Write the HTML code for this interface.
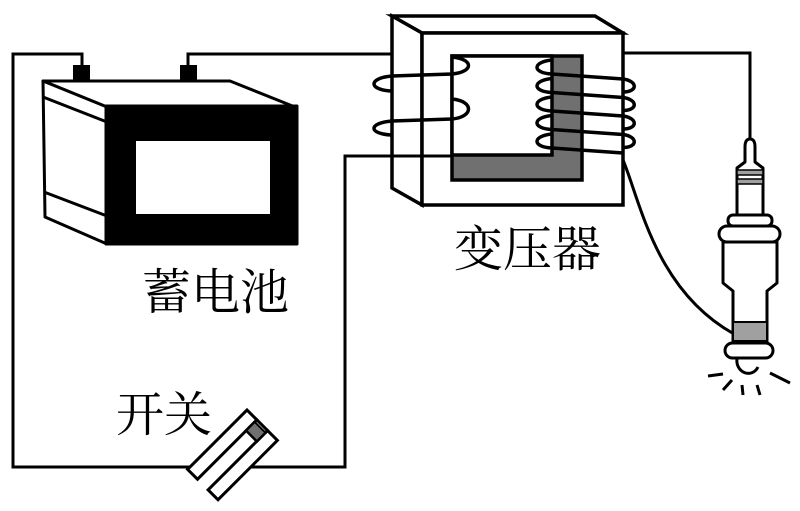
<!DOCTYPE html>
<html><head><meta charset="utf-8"><style>
html,body{margin:0;padding:0;background:#fff;}
svg{display:block;}
text{font-family:"Liberation Serif","Noto Serif CJK SC","Noto Serif CJK SC",serif;fill:#000;}
</style></head><body>
<svg width="800" height="511" viewBox="0 0 800 511" xmlns="http://www.w3.org/2000/svg">
<rect width="800" height="511" fill="#fff"/>

<!-- wires -->
<g fill="none" stroke="#000" stroke-width="3">
  <path d="M82 66 V54 H13 V467 H190"/>
  <path d="M188 66 V54 H392"/>
  <path d="M623 53 H750 V142"/>
</g>

<!-- battery -->
<g stroke="#000" stroke-width="3" stroke-linejoin="round">
  <rect x="73" y="65" width="17" height="16" fill="#000" stroke="none"/>
  <rect x="180" y="65" width="17" height="16" fill="#000" stroke="none"/>
  <polygon points="43,81 230,81 295,107 107,107" fill="#fff"/>
  <polygon points="43,81 107,107 107,244 45,217" fill="#fff"/>
  <line x1="43" y1="97" x2="107" y2="122"/>
  <line x1="44" y1="192" x2="107" y2="216"/>
  <rect x="106" y="106" width="191" height="138" fill="#000"/>
  <rect x="136" y="141" width="134" height="73" fill="#fff" stroke="none"/>
</g>

<!-- transformer -->
<g stroke="#000" stroke-width="3.5" stroke-linejoin="miter">
  <polygon points="392,16 595,16 623,33 422,33" fill="#fff"/>
  <polygon points="392,16 422,33 422,205 392,188" fill="#fff"/>
  <rect x="422" y="33" width="201" height="172" fill="#fff"/>
  <rect x="452" y="56" width="130" height="124" fill="#707070"/>
  <rect x="452" y="56" width="100" height="99" fill="#fff"/>
</g>

<!-- coils -->
<g fill="none" stroke="#000" stroke-width="3.5">
  <path d="M452 57 C474 59,474 72,452 74 L392 76 C368 78,368 90,392 91"/>
  <path d="M452 99 C474 101,474 117,452 119 L392 121 C368 123,368 134,392 135"/>
  <path d="M552 60 C532 62,532 73,552 74 L623 79 C638 81,638 92,623 92"/>
  <path d="M552 78.5 C532 80.5,532 91.5,552 92.5 L623 97.5 C638 99.5,638 110.5,623 110.5"/>
  <path d="M552 97 C532 99,532 110,552 111 L623 116 C638 118,638 129,623 129"/>
  <path d="M552 115.5 C532 117.5,532 128.5,552 129.5 L623 134.5 C638 136.5,638 147.5,623 147.5"/>
  <path d="M552 134 C532 136,532 147,552 148 L623 153"/>
</g>
<g fill="none" stroke="#000" stroke-width="3">
  <path d="M250 467 H345 V156 H452"/>
  <path d="M623 152 V160 C640 200,655 290,734 334"/>
</g>

<!-- spark plug -->
<g stroke="#000" stroke-width="3" stroke-linejoin="round">
  <path d="M745 162 V147 Q745 139 750 139 Q755 139 755 147 V162 L763 168 V217 H737 V168 Z" fill="#fff"/>
  <rect x="737" y="170" width="26" height="5" fill="#a0a0a0" stroke-width="1.5"/>
  <rect x="737" y="179" width="26" height="5" fill="#a0a0a0" stroke-width="1.5"/>
  <path d="M723 242 V283 L733 291 V343 H767 V291 L777 283 V242 Z" fill="#fff"/>
  <rect x="733" y="322" width="34" height="19" fill="#a0a0a0" stroke-width="2"/>
  <rect x="728" y="215" width="44" height="11" rx="5" fill="#fff"/>
  <rect x="719" y="226" width="61" height="16" rx="8" fill="#fff"/>
  <rect x="725" y="343" width="48" height="15" rx="7.5" fill="#fff"/>
  <path d="M737 358 C735 373,752 379,758 367" fill="none"/>
  <line x1="708" y1="376" x2="723" y2="374"/>
  <line x1="723" y1="390" x2="732" y2="380"/>
  <line x1="742" y1="385" x2="743" y2="395"/>
  <line x1="757" y1="385" x2="760" y2="395"/>
  <line x1="770" y1="373" x2="790" y2="383"/>
</g>

<!-- switch -->
<g transform="translate(247,410) rotate(-45)" stroke="#000" stroke-width="3" stroke-linejoin="miter">
  <rect x="-84" y="0" width="84" height="14" fill="#fff"/>
  <rect x="-84" y="29" width="84" height="14" fill="#fff"/>
  <rect x="-15" y="14" width="15" height="15" fill="#fff"/>
  <rect x="-15" y="14" width="12" height="15" fill="#707070" stroke-width="2"/>
</g>

<!-- labels -->
<text x="142" y="309" font-size="49">蓄电池</text>
<text x="454" y="266" font-size="49">变压器</text>
<text x="116" y="431" font-size="48">开关</text>
</svg>
</body></html>
